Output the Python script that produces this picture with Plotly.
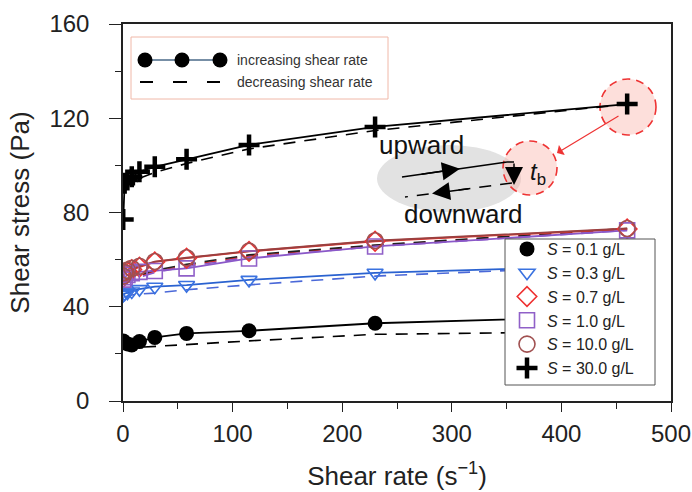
import plotly.graph_objects as go

# ---------------- data ----------------
shear_rate = [0.2, 1.5, 4, 8, 15, 29, 58, 115, 230, 460]

labels = ["<i>S</i> = 0.1 g/L", "<i>S</i> = 0.3 g/L", "<i>S</i> = 0.7 g/L",
          "<i>S</i> = 1.0 g/L", "<i>S</i> = 10.0 g/L", "<i>S</i> = 30.0 g/L"]

inc_s01 = [25.5, 24.8, 24.2, 23.8, 25.2, 27.0, 28.7, 29.8, 33.0, 36.0]
dec_s01 = [22.0, 22.2, 22.4, 22.6, 22.8, 23.0, 23.8, 25.5, 28.3, 29.5]

inc_s03 = [45.0, 45.5, 46.0, 46.5, 47.5, 48.5, 49.2, 51.4, 54.4, 57.5]
dec_s03 = [44.0, 44.3, 44.6, 45.0, 45.4, 45.8, 47.2, 49.3, 53.0, 57.5]

inc_s07 = [52.5, 54.0, 55.0, 55.8, 56.8, 59.0, 60.6, 63.5, 67.8, 73.0]
dec_s07 = [50.5, 51.0, 51.5, 52.0, 53.0, 55.0, 57.5, 61.5, 66.0, 73.0]

inc_s1 = [51.5, 52.5, 53.5, 54.2, 54.8, 55.2, 56.3, 60.5, 65.6, 72.4]
dec_s1 = [50.0, 50.5, 51.0, 51.5, 52.5, 54.5, 57.0, 61.0, 65.5, 72.4]

inc_s10 = [53.0, 54.5, 55.5, 56.3, 57.2, 59.2, 60.8, 63.6, 68.0, 73.2]
dec_s10 = [51.0, 51.5, 52.0, 52.5, 53.5, 55.5, 58.0, 62.0, 66.2, 73.2]

inc_s30 = [77.0, 92.4, 93.8, 95.2, 97.3, 99.4, 102.6, 108.7, 116.3, 126.0]
dec_s30 = [90.0, 90.5, 91.5, 93.0, 94.5, 97.0, 100.8, 107.0, 114.8, 126.0]

x_ticks = [0, 100, 200, 300, 400, 500]
y_ticks = [0, 40, 80, 120, 160]

# ---------------- style ----------------
FONT = "Liberation Sans, Arial, sans-serif"
series = [
    (inc_s01, dec_s01, labels[0], "#000000", "#000000",
     dict(symbol="circle", size=15, color="#000000", line=dict(width=0))),
    (inc_s03, dec_s03, labels[1], "#2a62d0", "#4a68d8",
     dict(symbol="triangle-down-open", size=14, color="#3a72e0", line=dict(width=1.6))),
    (inc_s07, dec_s07, labels[2], "#e83028", "#e83028",
     dict(symbol="diamond-open", size=15, color="#ee3030", line=dict(width=1.6))),
    (inc_s1, dec_s1, labels[3], "#8a58c8", "#8a58c8",
     dict(symbol="square-open", size=15, color="#9060c8", line=dict(width=1.6))),
    (inc_s10, dec_s10, labels[4], "#9a4040", "#222222",
     dict(symbol="circle-open", size=16, color="#a05050", line=dict(width=1.6))),
    (inc_s30, dec_s30, labels[5], "#000000", "#000000",
     dict(symbol="cross-thin-open", size=15, color="#000000", line=dict(width=4.5))),
]

fig = go.Figure()

# dashed (decreasing) lines
for inc, dec, name, lc, dc, mk in series:
    fig.add_trace(go.Scatter(x=shear_rate, y=dec, mode="lines", showlegend=False,
                             line=dict(color=dc, width=1.6, dash="12px,9px"),
                             hoverinfo="skip"))
# solid (increasing) lines
for inc, dec, name, lc, dc, mk in series:
    fig.add_trace(go.Scatter(x=shear_rate, y=inc, mode="lines", showlegend=False,
                             line=dict(color=lc, width=1.8), hoverinfo="skip"))
# markers (legend)
for inc, dec, name, lc, dc, mk in series:
    fig.add_trace(go.Scatter(x=shear_rate, y=inc, mode="markers", name=name,
                             marker=mk))

# ---------------- helpers for annotation placement ----------------
X0, X1, Y0, Y1 = 123, 671, 401, 24   # plot-area pixel frame


def px2x(px):
    return (px - X0) / (X1 - X0) * 500


def px2y(py):
    return (Y0 - py) / (Y0 - Y1) * 160


def ppx(px):
    return (px - X0) / (X1 - X0)


def ppy(py):
    return (Y0 - py) / (Y0 - Y1)


shapes = []
# grey ellipse
shapes.append(dict(type="circle", xref="x", yref="y", layer="below",
                   x0=px2x(377), x1=px2x(521), y0=px2y(212), y1=px2y(145),
                   fillcolor="#e2e2e2", line=dict(width=0)))
# red dashed circles
for cx, cy, r in [(530, 168, 27), (628, 107, 28)]:
    shapes.append(dict(type="circle", xref="x", yref="y", layer="below",
                       x0=px2x(cx - r), x1=px2x(cx + r),
                       y0=px2y(cy + r), y1=px2y(cy - r),
                       fillcolor="rgba(250,170,160,0.38)",
                       line=dict(color="#ee3333", width=1.6, dash="8px,6px")))
# upward solid line + bracket down
shapes.append(dict(type="line", xref="x", yref="y",
                   x0=px2x(402), y0=px2y(177), x1=px2x(507), y1=px2y(162),
                   line=dict(color="#000", width=1.5)))
shapes.append(dict(type="line", xref="x", yref="y",
                   x0=px2x(507), y0=px2y(162), x1=px2x(514), y1=px2y(162),
                   line=dict(color="#000", width=1.5)))
# downward dashed line
shapes.append(dict(type="line", xref="x", yref="y",
                   x0=px2x(512), y0=px2y(183), x1=px2x(405), y1=px2y(197),
                   line=dict(color="#000", width=1.5, dash="12px,9px")))

# top-left legend box (drawn)
shapes.append(dict(type="rect", xref="paper", yref="paper",
                   x0=ppx(131), x1=ppx(388), y0=ppy(99), y1=ppy(37),
                   fillcolor="white", line=dict(color="#f0b8a8", width=1)))
shapes.append(dict(type="line", xref="paper", yref="paper",
                   x0=ppx(145), x1=ppx(220), y0=ppy(60), y1=ppy(60),
                   line=dict(color="#4a6a88", width=1.5)))
for cx in [145, 182, 220]:
    shapes.append(dict(type="circle", xref="paper", yref="paper",
                       xsizemode="pixel", ysizemode="pixel",
                       xanchor=ppx(cx), yanchor=ppy(60),
                       x0=-7.5, x1=7.5, y0=-7.5, y1=7.5,
                       fillcolor="black", line=dict(width=0)))
for a, b in [(140, 153), (173, 187), (207, 220)]:
    shapes.append(dict(type="line", xref="paper", yref="paper",
                       x0=ppx(a), x1=ppx(b), y0=ppy(82), y1=ppy(82),
                       line=dict(color="black", width=2)))

# bottom-right legend frame (legend itself is transparent, on top)
shapes.append(dict(type="rect", xref="paper", yref="paper",
                   x0=ppx(505), x1=ppx(655), y0=ppy(385), y1=ppy(239),
                   fillcolor="white", line=dict(color="#555", width=1)))

annotations = [
    dict(x=ppx(235), y=ppy(60), xref="paper", yref="paper", text="increasing shear rate",
         showarrow=False, xanchor="left", yanchor="middle",
         font=dict(family=FONT, size=14, color="#333")),
    dict(x=ppx(235), y=ppy(82), xref="paper", yref="paper", text="decreasing shear rate",
         showarrow=False, xanchor="left", yanchor="middle",
         font=dict(family=FONT, size=14, color="#333")),
    dict(x=px2x(421), y=px2y(145), text="upward", showarrow=False,
         font=dict(family=FONT, size=26, color="#111")),
    dict(x=px2x(463), y=px2y(214), text="downward", showarrow=False,
         font=dict(family=FONT, size=26, color="#111")),
    dict(x=px2x(538), y=px2y(173), text="<i>t</i><sub>b</sub>", showarrow=False,
         font=dict(family=FONT, size=24, color="#111")),
    # mid arrowhead on upward line
    dict(x=px2x(460), y=px2y(168.7), ax=px2x(420), ay=px2y(174.4), axref="x", ayref="y",
         text="", showarrow=True, arrowhead=2, arrowsize=2.4, arrowwidth=1.5, arrowcolor="#000"),
    # down arrow
    dict(x=px2x(514), y=px2y(185), ax=px2x(514), ay=px2y(162), axref="x", ayref="y",
         text="", showarrow=True, arrowhead=2, arrowsize=2.4, arrowwidth=1.5, arrowcolor="#000"),
    # left arrowhead on downward line
    dict(x=px2x(432), y=px2y(193.5), ax=px2x(470), ay=px2y(188.5), axref="x", ayref="y",
         text="", showarrow=True, arrowhead=2, arrowsize=2.4, arrowwidth=1.5, arrowcolor="#000"),
    # red dashed arrow between circles
    dict(x=px2x(557), y=px2y(153), ax=px2x(620), ay=px2y(115), axref="x", ayref="y",
         text="", showarrow=True, arrowhead=1, arrowsize=1.6, arrowwidth=1.2,
         arrowcolor="#ee3333"),
]

fig.update_layout(
    width=692, height=492,
    margin=dict(l=X0, r=692 - X1, t=Y1, b=492 - Y0, autoexpand=False),
    paper_bgcolor="white", plot_bgcolor="white",
    font=dict(family=FONT, size=24, color="#222"),
    shapes=shapes, annotations=annotations,
    legend=dict(x=ppx(507), y=ppy(232), xanchor="left", yanchor="top",
                bgcolor="rgba(0,0,0,0)", borderwidth=0,
                font=dict(family=FONT, size=16, color="#222"),
                itemsizing="trace", tracegroupgap=0),
    xaxis=dict(range=[0, 500], tickvals=x_ticks, ticks="outside", ticklen=9,
               tickwidth=1.2, tickcolor="#222", showline=True, linecolor="#222",
               linewidth=1.5, mirror=True, showgrid=False, zeroline=False,
               automargin=False, ticklabelstandoff=1,
               minor=dict(dtick=50, ticks="outside", ticklen=6, tickcolor="#222", showgrid=False),
               title=dict(text="Shear rate (s<sup>−1</sup>)", standoff=21,
                          font=dict(family=FONT, size=26, color="#222"))),
    yaxis=dict(range=[0, 160], tickvals=y_ticks, ticks="outside", ticklen=12,
               tickwidth=1.2, tickcolor="#222", showline=True, linecolor="#222",
               linewidth=1.5, mirror=True, showgrid=False, zeroline=False,
               automargin=False, ticklabelstandoff=15,
               minor=dict(dtick=20, ticks="outside", ticklen=6, tickcolor="#222", showgrid=False),
               title=dict(text="Shear stress (Pa)", standoff=12,
                          font=dict(family=FONT, size=26, color="#222"))),
)

fig.write_html("out.html")
